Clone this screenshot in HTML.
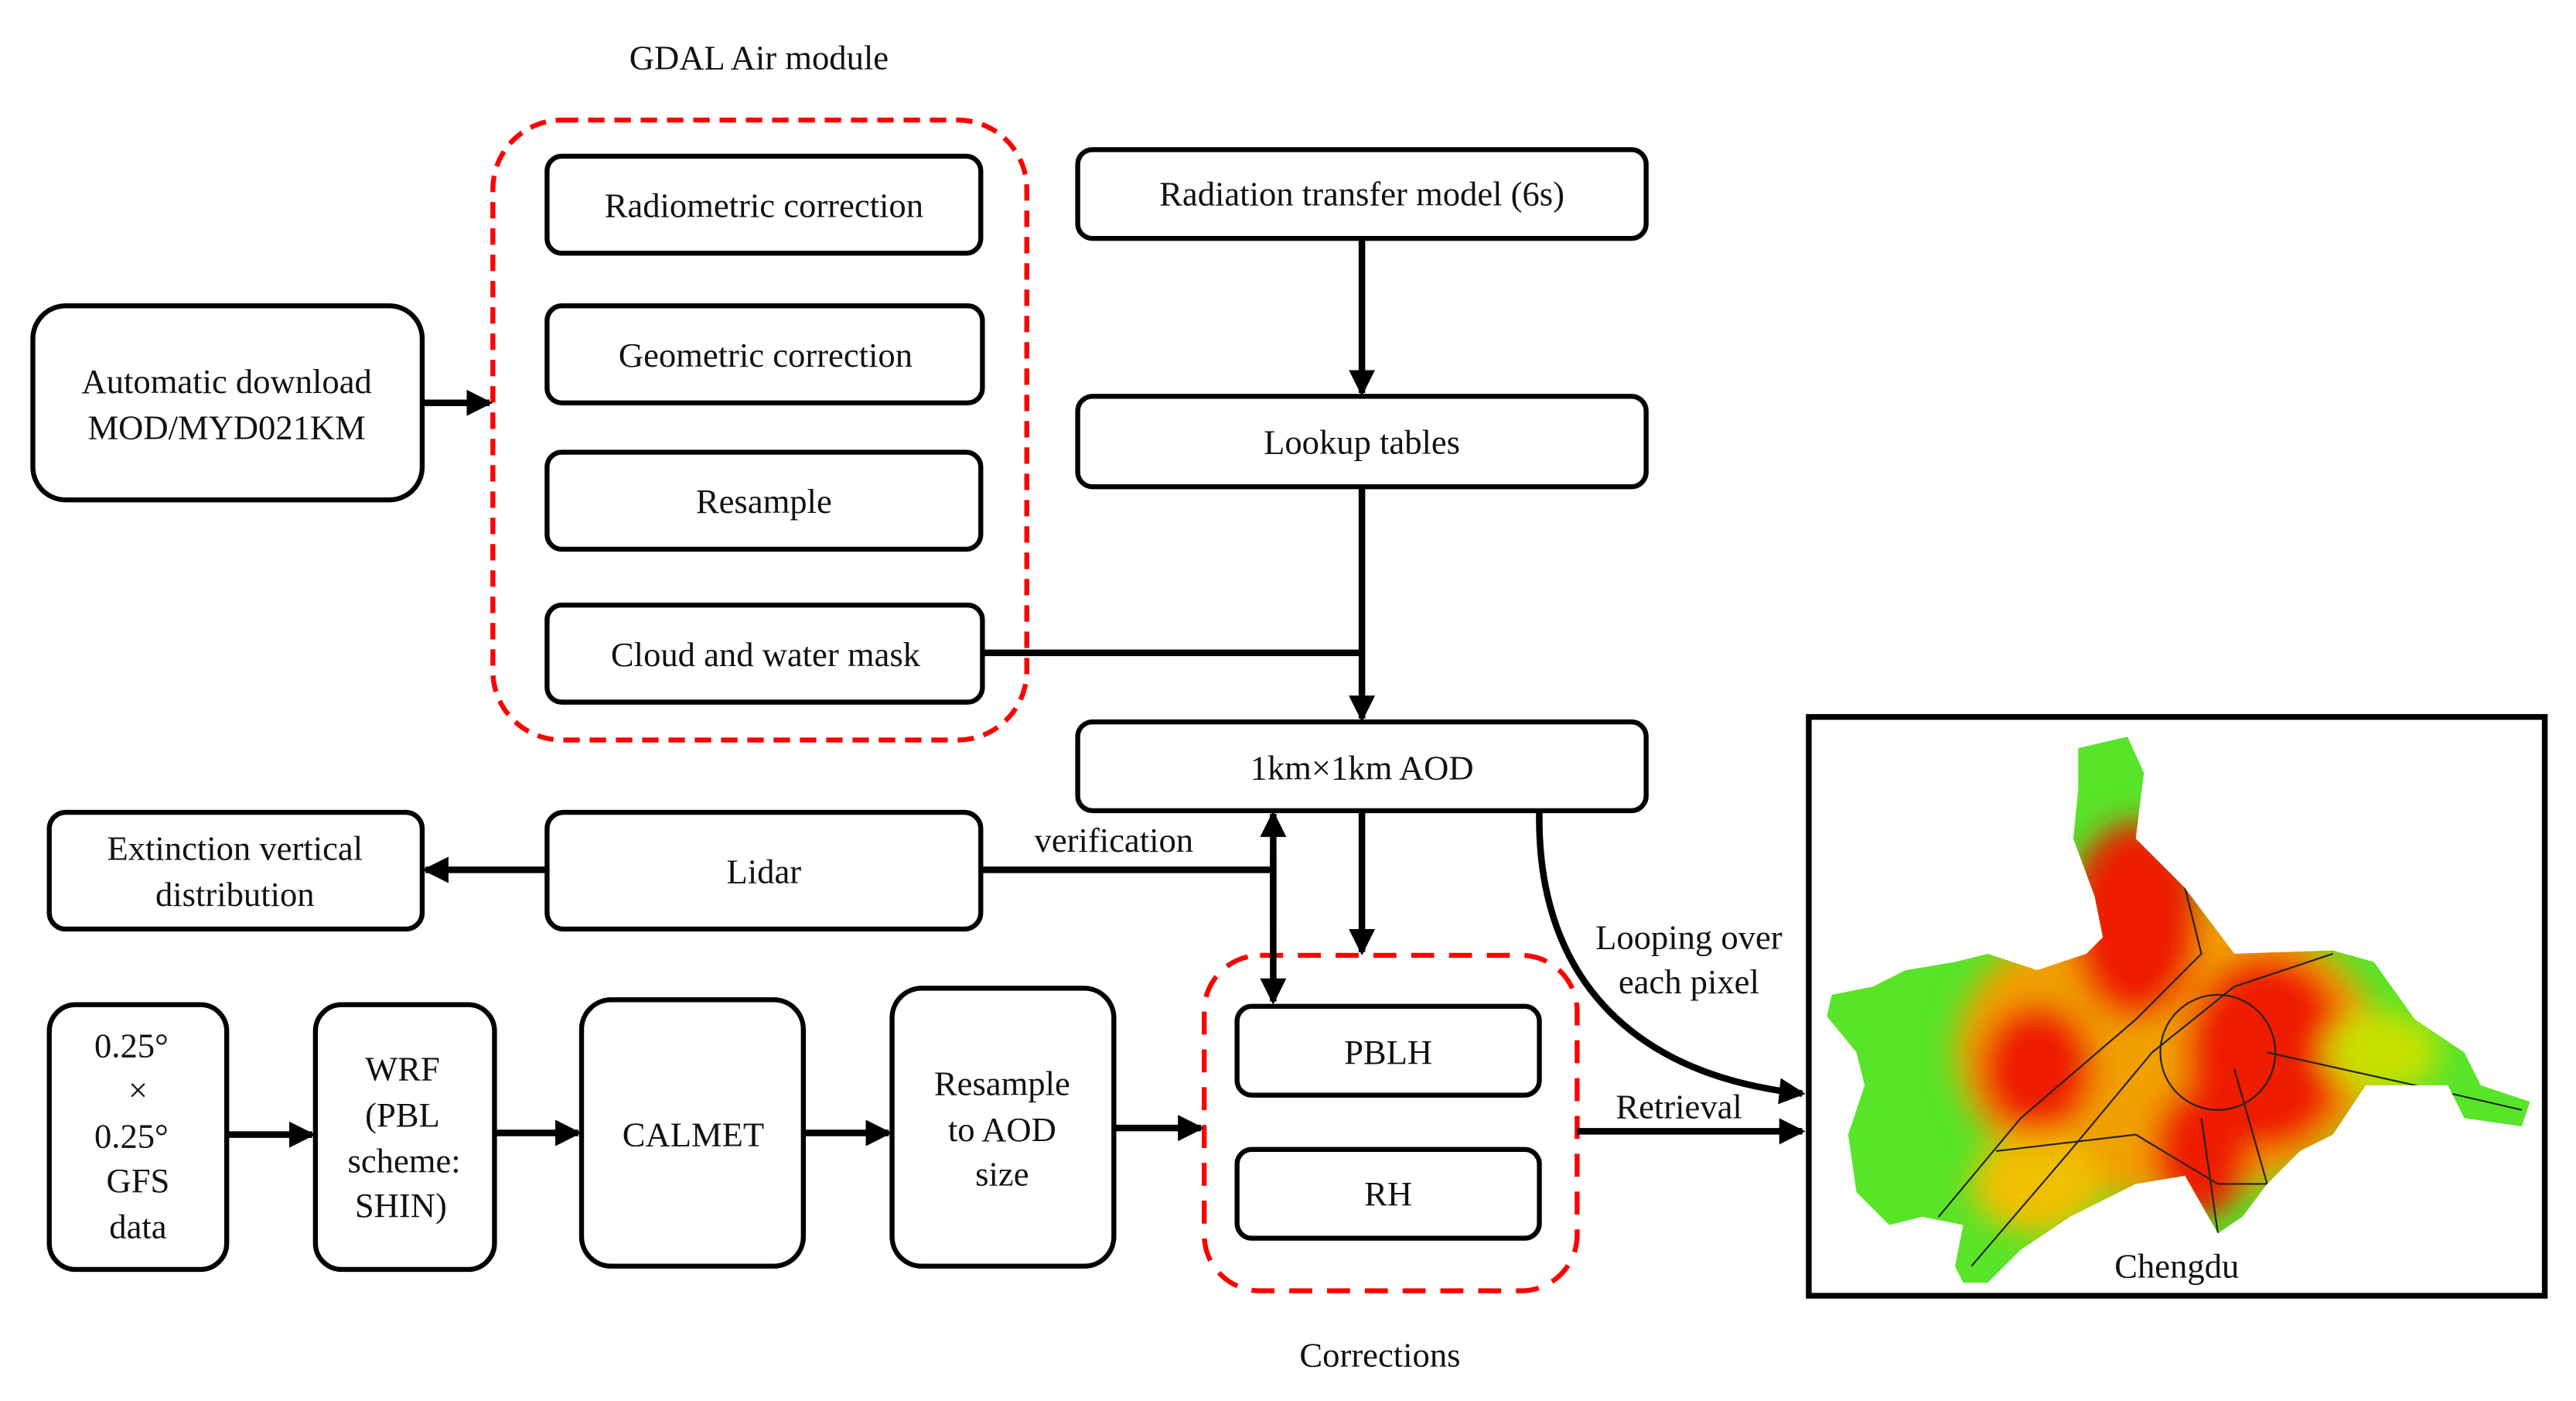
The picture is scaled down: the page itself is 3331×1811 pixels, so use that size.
<!DOCTYPE html>
<html><head><meta charset="utf-8"><style>
html,body{margin:0;padding:0;background:#fff;}
svg{display:block;}
svg text{font-family:"Liberation Serif","Times New Roman",Times,"DejaVu Serif",serif;font-size:21px;fill:#111;text-anchor:middle;}
</style></head><body>
<svg width="3331" height="1811" viewBox="0 0 1568 852" preserveAspectRatio="none" xmlns="http://www.w3.org/2000/svg" font-family="Liberation Serif, serif">
<defs>
<marker id="b" markerWidth="4" markerHeight="4" refX="3.5" refY="2" orient="auto" markerUnits="strokeWidth"><path d="M0,0 L4,2 L0,4 z" fill="#000"/></marker>
<filter id="bl"><feGaussianBlur stdDeviation="9"/></filter>
<clipPath id="cp"><path d="M1265,455 L1295,448 L1305,470 L1300,510 L1330,540 L1360,580 L1420,578 L1445,585 L1470,620 L1500,640 L1510,660 L1540,670 L1535,685 L1500,680 L1490,660 L1440,660 L1420,690 L1400,700 L1380,720 L1365,740 L1350,750 L1330,715 L1300,720 L1260,740 L1230,760 L1210,780 L1195,780 L1190,770 L1195,745 L1170,740 L1150,745 L1130,725 L1125,690 L1135,660 L1130,640 L1112,618 L1115,605 L1140,600 L1160,590 L1190,585 L1210,580 L1240,590 L1270,580 L1280,570 L1275,545 L1262,510 L1265,480 z"/></clipPath>
</defs>
<g fill="none" stroke="#000" stroke-width="3">
<rect x="20" y="186" width="237" height="118" rx="20"/>
<rect x="333" y="95" width="264" height="59" rx="9"/>
<rect x="333" y="186" width="265" height="59" rx="9"/>
<rect x="333" y="275" width="264" height="59" rx="9"/>
<rect x="333" y="368" width="265" height="59" rx="9"/>
<rect x="656" y="91" width="346" height="54" rx="9"/>
<rect x="656" y="241" width="346" height="55" rx="9"/>
<rect x="656" y="439" width="346" height="54" rx="9"/>
<rect x="30" y="494" width="227" height="71" rx="10"/>
<rect x="333" y="494" width="264" height="71" rx="10"/>
<rect x="30" y="611" width="108" height="161" rx="16"/>
<rect x="192" y="611" width="109" height="161" rx="16"/>
<rect x="354" y="608" width="135" height="162" rx="18"/>
<rect x="543" y="601" width="135" height="169" rx="18"/>
<rect x="753" y="612" width="184" height="54" rx="9"/>
<rect x="753" y="699" width="184" height="54" rx="9"/>
</g>
<rect x="300" y="73" width="325" height="377" rx="42" fill="none" stroke="#f00" stroke-width="3" stroke-dasharray="10,6"/>
<rect x="733" y="581" width="227" height="204" rx="34" fill="none" stroke="#f00" stroke-width="3" stroke-dasharray="14,9"/>
<g stroke="#000" stroke-width="4" fill="none">
<line x1="257" y1="245" x2="298" y2="245" marker-end="url(#b)"/>
<line x1="829" y1="145" x2="829" y2="239" marker-end="url(#b)"/>
<line x1="829" y1="296" x2="829" y2="437" marker-end="url(#b)"/>
<line x1="598" y1="397" x2="829" y2="397"/>
<line x1="333" y1="529" x2="259" y2="529" marker-end="url(#b)"/>
<line x1="597" y1="529" x2="775" y2="529"/>
<line x1="775" y1="560" x2="775" y2="495" marker-end="url(#b)"/>
<line x1="775" y1="520" x2="775" y2="609" marker-end="url(#b)"/>
<line x1="829" y1="493" x2="829" y2="579" marker-end="url(#b)"/>
<path d="M937,493 C935,600 1000,655 1097,665" marker-end="url(#b)"/>
<line x1="960" y1="688" x2="1097" y2="688" marker-end="url(#b)"/>
<line x1="138" y1="690" x2="190" y2="690" marker-end="url(#b)"/>
<line x1="301" y1="689" x2="352" y2="689" marker-end="url(#b)"/>
<line x1="489" y1="689" x2="541" y2="689" marker-end="url(#b)"/>
<line x1="678" y1="686" x2="731" y2="686" marker-end="url(#b)"/>
</g>
<rect x="1101" y="436" width="448" height="352" fill="#fff" stroke="#000" stroke-width="3.5"/>
<g clip-path="url(#cp)">
<rect x="1100" y="440" width="450" height="350" fill="#58e428"/>
<g filter="url(#bl)">
<ellipse cx="1320" cy="640" rx="130" ry="90" fill="#f0a000"/>
<ellipse cx="1300" cy="560" rx="40" ry="60" fill="#ee1a00"/>
<ellipse cx="1380" cy="640" rx="50" ry="60" fill="#ee1a00"/>
<ellipse cx="1240" cy="650" rx="35" ry="40" fill="#ee1a00"/>
<ellipse cx="1340" cy="700" rx="30" ry="40" fill="#ee1a00"/>
<ellipse cx="1240" cy="720" rx="40" ry="30" fill="#f0c000"/>
<ellipse cx="1450" cy="640" rx="35" ry="25" fill="#c8e000"/>
</g>
<g stroke="#222" stroke-width="1" fill="none">
<circle cx="1350" cy="640" r="35"/>
<path d="M1200,770 L1260,700 L1310,640 L1360,600 L1420,580"/>
<path d="M1180,740 L1230,680 L1300,620 L1340,580 L1320,500"/>
<path d="M1340,680 L1350,750"/><path d="M1360,650 L1380,720"/>
<path d="M1380,640 L1470,660 L1535,675"/>
<path d="M1215,700 L1300,690 L1350,720 L1390,720"/>
</g>
</g>
<text x="462" y="42">GDAL Air module</text>
<text x="465" y="132">Radiometric correction</text>
<text x="466" y="223">Geometric correction</text>
<text x="465" y="312">Resample</text>
<text x="466" y="405">Cloud and water mask</text>
<text x="138" y="239">Automatic download</text>
<text x="138" y="267">MOD/MYD021KM</text>
<text x="829" y="125">Radiation transfer model (6s)</text>
<text x="829" y="276">Lookup tables</text>
<text x="829" y="474">1km×1km AOD</text>
<text x="143" y="523">Extinction vertical</text>
<text x="143" y="551">distribution</text>
<text x="465" y="537">Lidar</text>
<text x="678" y="518">verification</text>
<text x="80" y="643">0.25°</text>
<text x="84" y="670">×</text>
<text x="80" y="698">0.25°</text>
<text x="84" y="725">GFS</text>
<text x="84" y="753">data</text>
<text x="245" y="657">WRF</text>
<text x="245" y="685">(PBL</text>
<text x="246" y="713">scheme:</text>
<text x="244" y="740">SHIN)</text>
<text x="422" y="697">CALMET</text>
<text x="610" y="666">Resample</text>
<text x="610" y="694">to AOD</text>
<text x="610" y="721">size</text>
<text x="845" y="647">PBLH</text>
<text x="845" y="733">RH</text>
<text x="1028" y="577">Looping over</text>
<text x="1028" y="604">each pixel</text>
<text x="1022" y="680">Retrieval</text>
<text x="1325" y="777">Chengdu</text>
<text x="840" y="831">Corrections</text>
</svg>
</body></html>
